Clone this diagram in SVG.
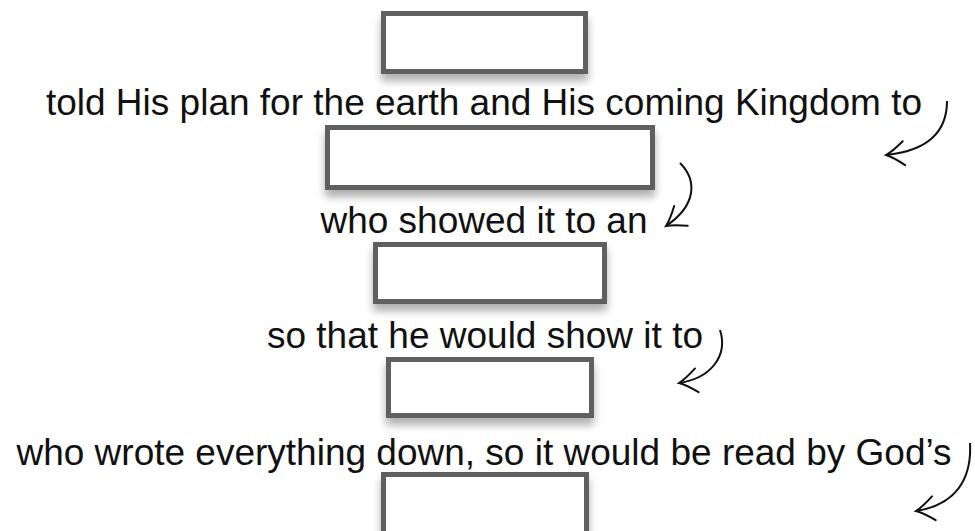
<svg xmlns="http://www.w3.org/2000/svg" width="975" height="531" viewBox="0 0 975 531">
<style>
.box{fill:#ffffff;stroke:#606060;stroke-width:5;filter:url(#sh)}
.lbl{font-family:"Liberation Sans",Arial,Helvetica,sans-serif;font-size:37px;fill:#111111;text-anchor:middle}
.arr{fill:none;stroke:#111111;stroke-width:2;marker-end:url(#ah)}
</style>
<defs>
<filter id="sh" x="-10%" y="-20%" width="120%" height="160%">
<feGaussianBlur in="SourceAlpha" stdDeviation="4"/>
<feOffset dx="0" dy="7" result="b"/>
<feComponentTransfer in="b" result="c"><feFuncA type="linear" slope="0.32"/></feComponentTransfer>
<feMerge><feMergeNode in="c"/><feMergeNode in="SourceGraphic"/></feMerge>
</filter>
<marker id="ah" markerUnits="userSpaceOnUse" markerWidth="40" markerHeight="40" refX="0" refY="0" viewBox="-20 -20 40 40" orient="auto" overflow="visible">
<path d="M-18,-12 Q-7,-3 0,0 Q-7,3 -18,12" fill="none" stroke="#111111" stroke-width="2" stroke-linecap="round"/>
</marker>
</defs>
<rect width="975" height="531" fill="#ffffff"/>
<g id="box1"><rect class="box" x="383.5" y="13.5" width="202" height="58"/></g>
<g id="label1"><text class="lbl" x="484" y="115">told His plan for the earth and His coming Kingdom to</text></g>
<g id="box2"><rect class="box" x="327.5" y="127.5" width="325" height="60"/></g>
<g id="label2"><text class="lbl" x="484" y="233">who showed it to an</text></g>
<g id="box3"><rect class="box" x="375.5" y="244.5" width="229" height="57"/></g>
<g id="label3"><text class="lbl" x="485" y="348">so that he would show it to</text></g>
<g id="box4"><rect class="box" x="388.5" y="359.5" width="203" height="56"/></g>
<g id="label4"><text class="lbl" x="484" y="465">who wrote everything down, so it would be read by God’s</text></g>
<g id="box5"><rect class="box" x="383.5" y="474.5" width="203" height="70"/></g>
<g id="connectors">
<path class="arr" d="M947,101 C947,125 935,150 886,155"/>
<path class="arr" d="M680,163 C697,180 697,205 666,226"/>
<path class="arr" d="M720,330 C728,355 712,378 679,383"/>
<path class="arr" d="M970,443 C972,480 955,505 916,511"/>
</g>
</svg>
